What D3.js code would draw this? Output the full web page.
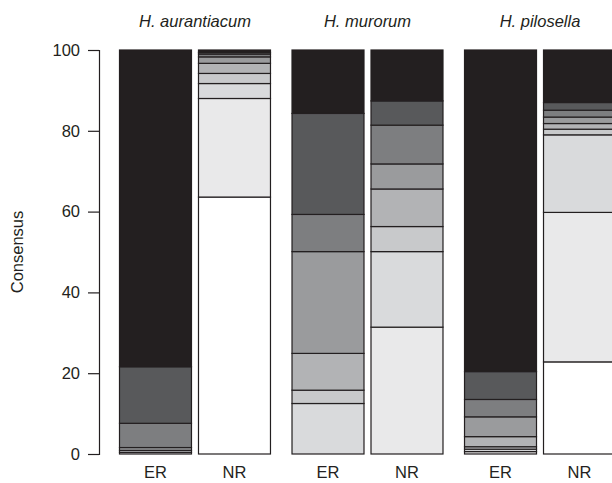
<!DOCTYPE html>
<html>
<head>
<meta charset="utf-8">
<script src="https://cdn.jsdelivr.net/npm/d3@7"></script>
<style>
  body { margin: 0; background: #fff; }
  svg { display: block; font-family: "Liberation Sans", Arial, sans-serif; }
</style>
</head>
<body>
<div id="root"></div>
<script>
// Data: consensus share of each cluster (K1 = top, darkest ... K9 = bottom, white)
const species = ["H. aurantiacum", "H. murorum", "H. pilosella"];
const regions = ["ER", "NR"];
const clusters = ["K1", "K2", "K3", "K4", "K5", "K6", "K7", "K8", "K9"];
const clusterColors = ["#231f20", "#58595b", "#7d7e80", "#9a9b9d", "#b2b3b5", "#c8c9cb", "#d9dadc", "#e9e9ea", "#ffffff"];

const aurantiacumER = [78.4, 14.0, 6.0, 0.7, 0.5, 0.4, 0, 0, 0];
const aurantiacumNR = [0.6, 0.4, 0.7, 1.6, 2.5, 2.5, 3.7, 24.4, 63.6];
const murorumER = [15.7, 25.0, 9.2, 25.2, 9.1, 3.3, 12.5, 0, 0];
const murorumNR = [12.6, 6.0, 9.6, 6.2, 9.3, 6.2, 18.7, 31.4, 0];
const pilosellaER = [79.6, 6.9, 4.3, 4.9, 2.5, 0.6, 0.6, 0.6, 0];
const pilosellaNR = [13.0, 1.9, 1.7, 1.6, 1.4, 1.4, 19.2, 37.0, 22.8];

const yTicks = [0, 20, 40, 60, 80, 100];

// table of bars built from the arrays above
const bars = [
  {species: species[0], region: regions[0], values: aurantiacumER},
  {species: species[0], region: regions[1], values: aurantiacumNR},
  {species: species[1], region: regions[0], values: murorumER},
  {species: species[1], region: regions[1], values: murorumNR},
  {species: species[2], region: regions[0], values: pilosellaER},
  {species: species[2], region: regions[1], values: pilosellaNR}
];

const width = 612, height = 483;
const ink = "#231f20";
const fontSize = 16.5;

const svg = d3.select("#root").append("svg")
  .attr("width", width)
  .attr("height", height);

const xSpecies = d3.scaleBand()
  .domain(species)
  .range([119, 616])
  .paddingInner(0.119);

const xRegion = d3.scaleBand()
  .domain(regions)
  .range([0, xSpecies.bandwidth()])
  .paddingInner(0.076);

const y = d3.scaleLinear().domain([0, 100]).range([454, 50]);

const color = d3.scaleOrdinal().domain(clusters).range(clusterColors);

// stack from bottom (K9) up to top (K1)
const stackOrder = clusters.slice().reverse();

const barG = svg.append("g")
  .selectAll("g")
  .data(bars)
  .join("g")
  .attr("transform", d => `translate(${xSpecies(d.species) + xRegion(d.region)},0)`);

barG.selectAll("rect")
  .data(d => {
    let acc = 0;
    const segs = [];
    stackOrder.forEach(k => {
      const v = d.values[clusters.indexOf(k)];
      if (v > 0) segs.push({k, y0: acc, y1: acc + v});
      acc += v;
    });
    return segs;
  })
  .join("rect")
  .attr("x", 0.5)
  .attr("width", xRegion.bandwidth() - 1)
  .attr("y", s => y(s.y1))
  .attr("height", s => y(s.y0) - y(s.y1))
  .attr("fill", s => color(s.k))
  .attr("stroke", ink)
  .attr("stroke-width", 1.2);

// region labels under each bar
barG.append("text")
  .attr("x", xRegion.bandwidth() / 2)
  .attr("y", 478)
  .attr("text-anchor", "middle")
  .attr("font-size", fontSize)
  .attr("fill", ink)
  .text(d => d.region);

// species titles
svg.append("g")
  .selectAll("text")
  .data(species)
  .join("text")
  .attr("x", d => xSpecies(d) + xSpecies.bandwidth() / 2)
  .attr("y", 27)
  .attr("text-anchor", "middle")
  .attr("font-size", fontSize)
  .attr("font-style", "italic")
  .attr("fill", ink)
  .text(d => d);

// y axis
const axisG = svg.append("g")
  .attr("transform", "translate(99,0)")
  .call(d3.axisLeft(y).tickValues(yTicks).tickSize(11).tickPadding(8));

axisG.select(".domain").attr("stroke", ink).attr("stroke-width", 1.2);
axisG.selectAll(".tick line").attr("stroke", ink).attr("stroke-width", 1.2);
axisG.selectAll(".tick text")
  .attr("font-size", fontSize)
  .attr("font-family", "Liberation Sans, Arial, sans-serif")
  .attr("fill", ink);

// y axis title
svg.append("text")
  .attr("transform", "translate(23,252) rotate(-90)")
  .attr("text-anchor", "middle")
  .attr("font-size", fontSize)
  .attr("fill", ink)
  .text("Consensus");
</script>
</body>
</html>
